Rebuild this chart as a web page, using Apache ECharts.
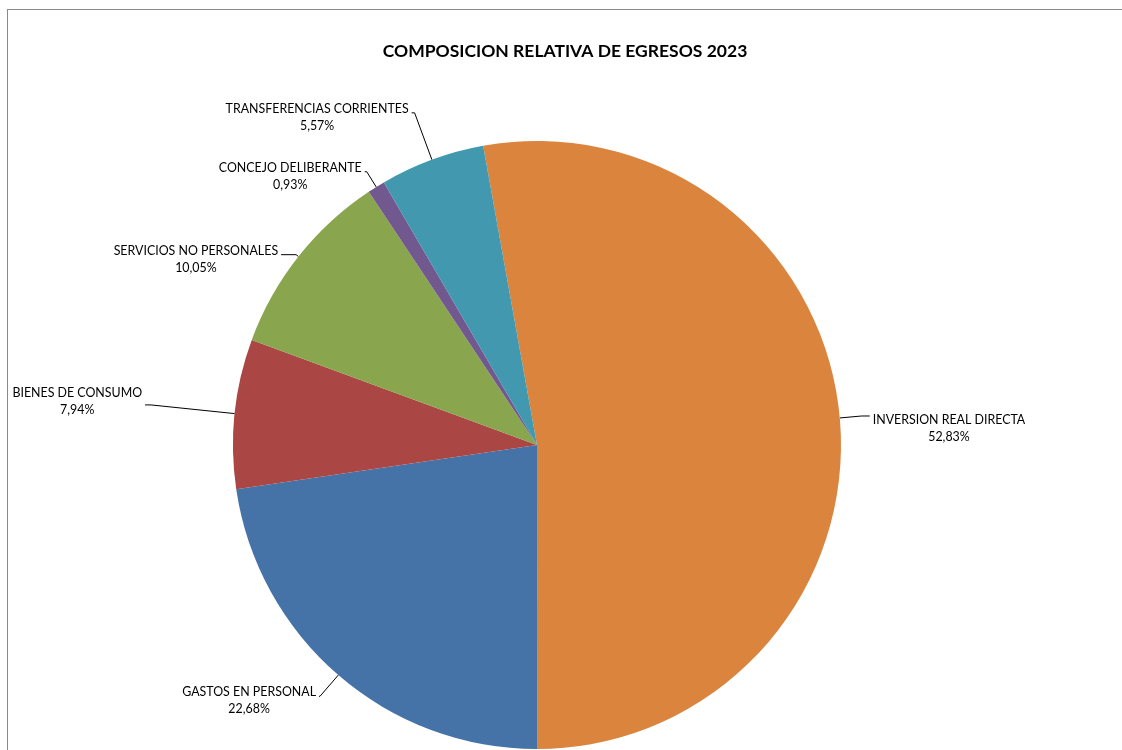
<!DOCTYPE html>
<html>
<head>
<meta charset="utf-8">
<script src="https://cdn.jsdelivr.net/npm/echarts@6/dist/echarts.min.js"></script>
<style>
html,body{margin:0;padding:0;width:1122px;height:750px;overflow:hidden;background:#fff;}
#frame{position:absolute;left:7px;top:9px;width:1300px;height:900px;border:1px solid #8a8a8a;box-sizing:border-box;}
#chart{position:absolute;left:0;top:0;width:1122px;height:750px;}
</style>
</head>
<body>
<div id="frame"></div>
<div id="chart"></div>
<script>
const categories = ["INVERSION REAL DIRECTA","GASTOS EN PERSONAL","BIENES DE CONSUMO","SERVICIOS NO PERSONALES","CONCEJO DELIBERANTE","TRANSFERENCIAS CORRIENTES"];
const values = [52.83, 22.68, 7.94, 10.05, 0.93, 5.57];
const colors = ["#DB843D","#4572A7","#AA4643","#89A54E","#71588F","#4198AF"];
const lineLengths = [[22,8],[28,1],[84,6],[3,15],[18,2],[50,3]];
const labelPads = [[25,0,0,0],[9,0,0,0],[9,0,16,0],[9,0,0,0],[9,0,0,0],[9,0,0,0]];

const chart = echarts.init(document.getElementById('chart'));
const font = "Lato, 'Open Sans', sans-serif";
chart.setOption({
  animation:false,
  title:{
    text:"COMPOSICION RELATIVA DE EGRESOS 2023",
    left:560, top:37, textAlign:'center',
    textStyle:{fontFamily:font,fontWeight:'bold',fontSize:17.5,color:'#000'}
  },
  series:[{
    type:'pie',
    center:[537,445],
    radius:[0,304],
    startAngle:100.2,
    clockwise:true,
    avoidLabelOverlap:false,
    itemStyle:{borderWidth:0},
    label:{
      show:true,
      position:'outside',
      color:'#000',
      fontFamily:font,
      fontSize:12.4,
      lineHeight:17,
      distanceToLabelLine:3,
      formatter:function(p){
        return '{n|'+p.name+'}\n{v|'+p.value.toFixed(2).replace('.',',')+'%}';
      },
      rich:{
        n:{align:'center',fontFamily:font,fontSize:12.4,lineHeight:17,color:'#000'},
        v:{align:'center',fontFamily:font,fontSize:12.4,lineHeight:17,color:'#000'}
      }
    },
    labelLine:{show:true,lineStyle:{color:'#000',width:1}},
    data:categories.map((c,i)=>({
      name:c, value:values[i],
      itemStyle:{color:colors[i]},
      label:{padding:labelPads[i]},
      labelLine:{length:lineLengths[i][0],length2:lineLengths[i][1]}
    }))
  }]
});
</script>
</body>
</html>
